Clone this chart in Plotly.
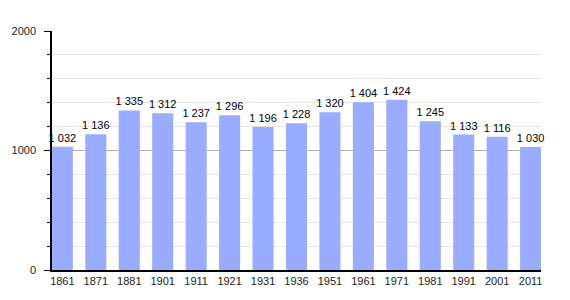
import plotly.graph_objects as go

years = ["1861","1871","1881","1901","1911","1921","1931","1936","1951","1961","1971","1981","1991","2001","2011"]
population = [1032,1136,1335,1312,1237,1296,1196,1228,1320,1404,1424,1245,1133,1116,1030]
labels = [f"{v:,}".replace(",", " ") for v in population]

fig = go.Figure(go.Bar(
    x=years, y=population, text=labels, textposition="outside",
    texttemplate="%{text}", cliponaxis=False, constraintext="none",
    marker=dict(color="rgb(153,172,255)", line=dict(width=0)),
    textfont=dict(family="Liberation Sans, Arial", size=11, color="black"),
))

fig.update_layout(
    width=570, height=300, margin=dict(l=50, r=29, t=31, b=30),
    paper_bgcolor="white", plot_bgcolor="white", showlegend=False,
    bargap=0.37,
    font=dict(family="Liberation Sans, Arial", size=11, color="#222"),
)
fig.update_xaxes(
    range=[-0.31, 14.31], showline=True, linecolor="black", linewidth=1.5,
    ticks="", showgrid=False, tickfont=dict(size=11, color="#222"),
)
fig.update_yaxes(
    range=[0, 2000], dtick=1000, tick0=0, showline=True, linecolor="black", linewidth=1.5,
    ticks="outside", ticklen=6, tickcolor="black", showgrid=True, gridcolor="#b0b0b0",
    gridwidth=1, zeroline=False, ticklabelstandoff=6,
    minor=dict(dtick=200, ticks="outside", ticklen=3, tickcolor="black", showgrid=True, gridcolor="#e4e4e4", gridwidth=1),
    tickfont=dict(size=11, color="#222"),
)

fig.write_html("out.html")
